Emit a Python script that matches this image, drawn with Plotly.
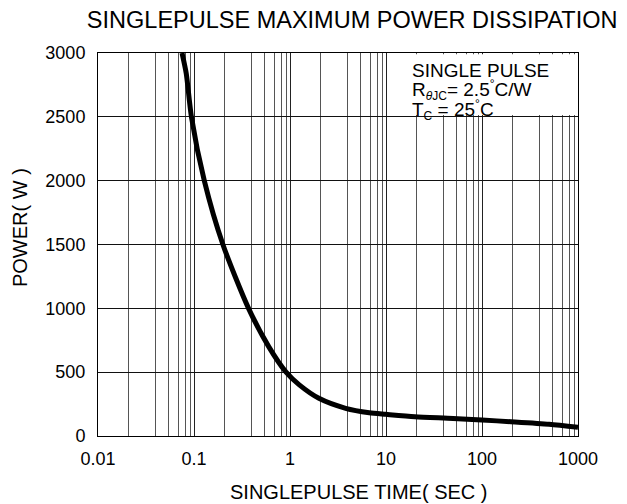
import plotly.graph_objects as go

# Data
time_s = [0.075, 0.083, 0.094, 0.128, 0.2, 0.37, 0.6, 0.91, 1.25, 2.0, 3.8, 6.7, 10, 20, 50, 100, 200, 500, 1000]
power_w = [3000, 2840, 2500, 2000, 1500, 1000, 700, 500, 400, 295, 217, 182, 170, 151, 138, 125, 112, 92, 68]

x_tick_vals = [0.01, 0.1, 1, 10, 100, 1000]
x_tick_text = ["0.01", "0.1", "1", "10", "100", "1000"]
y_tick_vals = [0, 500, 1000, 1500, 2000, 2500, 3000]
# irregular minor grid positions within each decade (as drawn in the reference)
minor_mult = [2.1, 3.95, 5.4, 6.9, 8.15, 9.1]
decades = [0.01, 0.1, 1, 10, 100]
minor_vals = [d * m for d in decades for m in minor_mult]

FONT = "Liberation Sans, Arial, sans-serif"

fig = go.Figure()
fig.add_trace(go.Scatter(
    x=time_s, y=power_w, mode="lines",
    line=dict(color="black", width=5, shape="spline", smoothing=0.7),
    showlegend=False, hoverinfo="skip",
))

# the page body adds an 8 px margin, so the figure is 8 px smaller than the window
fig.update_layout(
    width=619, height=496,
    margin=dict(l=90, r=49, t=45, b=68, autoexpand=False),
    paper_bgcolor="white", plot_bgcolor="white",
    font=dict(family=FONT, color="black"),
    title=dict(text="SINGLEPULSE MAXIMUM POWER DISSIPATION", x=0.556, xanchor="center",
               y=0.976, yanchor="middle", font=dict(size=23.5, family=FONT, color="black")),
    xaxis=dict(
        type="log", range=[-2, 3], automargin=False,
        tickmode="array", tickvals=x_tick_vals, ticktext=x_tick_text,
        tickfont=dict(size=18, family=FONT, color="black"),
        showgrid=True, gridcolor="#222", gridwidth=1,
        minor=dict(tickmode="array", tickvals=minor_vals, showgrid=True,
                   gridcolor="#555", gridwidth=1, ticks=""),
        showline=True, linecolor="black", linewidth=1, mirror=True,
        ticks="", ticklabelstandoff=6,
        zeroline=False,
    ),
    yaxis=dict(
        range=[0, 3000], automargin=False,
        tickmode="array", tickvals=y_tick_vals,
        tickfont=dict(size=18, family=FONT, color="black"),
        showgrid=True, gridcolor="#111", gridwidth=1,
        showline=True, linecolor="black", linewidth=1, mirror=True,
        ticks="", ticklabelstandoff=8,
        zeroline=False,
    ),
)

# axis titles
fig.add_annotation(text="SINGLEPULSE TIME( SEC )", xref="paper", yref="paper",
                   x=0.542, y=-0.146, xanchor="center", yanchor="middle", showarrow=False,
                   font=dict(size=20, family=FONT, color="black"))
fig.add_annotation(text="POWER( W )", xref="paper", yref="paper", textangle=-90,
                   x=-0.1625, y=0.543, xanchor="center", yanchor="middle", showarrow=False,
                   font=dict(size=20, family=FONT, color="black"))

# white legend box hiding the grid in the upper-right corner
fig.add_shape(type="rect", xref="paper", yref="paper",
              x0=0.62, x1=0.997, y0=0.838, y1=0.997,
              fillcolor="white", line=dict(width=0), layer="above")

SMALL = "<span style='font-size:12px'>{}</span>"
box_lines = [
    ("SINGLE PULSE", 0.955),
    ("R<sub>" + SMALL.format("<i>θ</i>JC") + "</sub>= 2.5<sup>" + SMALL.format("°") + "</sup>C/W", 0.903),
    ("T<sub>" + SMALL.format("C") + "</sub> = 25<sup>" + SMALL.format("°") + "</sup>C", 0.85),
]
for txt, yy in box_lines:
    fig.add_annotation(text=txt, xref="paper", yref="paper", x=0.65, y=yy,
                       xanchor="left", yanchor="middle", showarrow=False,
                       font=dict(size=19, family=FONT, color="black"))

fig.write_html("out.html")
